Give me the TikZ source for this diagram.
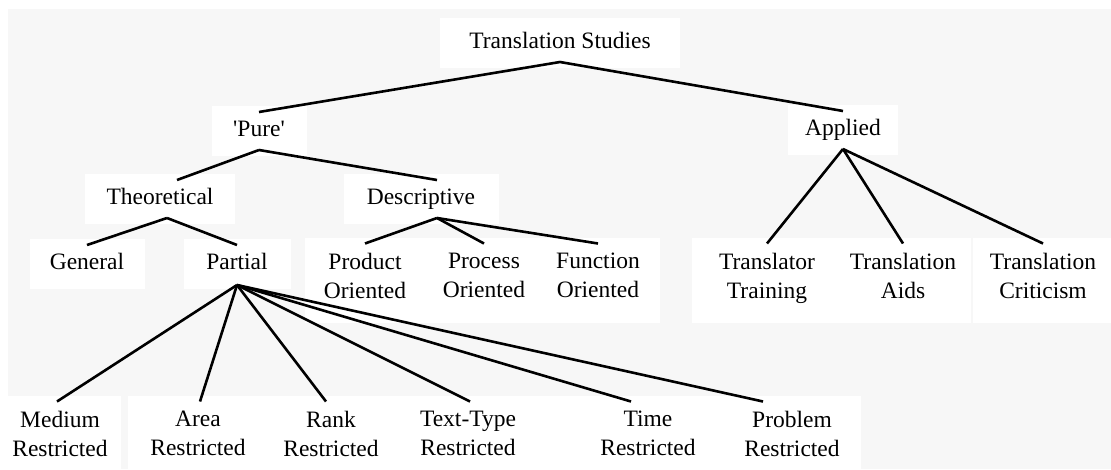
\documentclass[tikz,border=0pt]{standalone}
\usepackage{fontspec}
\setmainfont{Liberation Serif}[Ligatures=TeXOff]
\definecolor{bggray}{HTML}{F7F7F7}
\tikzset{
  lbl/.style={fill=white, align=center, font=\fontsize{23.5}{29}\selectfont,
    inner sep=2pt, outer ysep=-6pt, minimum height=50pt,
    execute at begin node=\strut, execute at end node=\strut},
  twoline/.style={lbl, minimum height=85pt}
}
\begin{document}
\begin{tikzpicture}[x=1pt, y=-1pt, line width=2.6pt]
  \useasboundingbox (0,0) rectangle (1111,469);
  \fill[bggray] (8,9) rectangle (1111,469);
  \node[lbl, minimum width=240pt] (ts) at (560,43) {Translation Studies};
  \node[lbl, minimum width=95pt] (pure) at (259,131) {'Pure'};
  \node[lbl, minimum width=110pt] (applied) at (843,130) {Applied};
  \node[lbl, minimum width=150pt] (theo) at (160,199) {Theoretical};
  \node[lbl, minimum width=155pt] (desc) at (421,199) {Descriptive};
  \node[lbl, minimum width=115pt] (general) at (87,264) {General};
  \node[lbl, minimum width=107pt] (partial) at (237,264) {Partial};
  \node[twoline, minimum width=120pt] (product) at (365,280) {Product\\Oriented};
  \node[twoline, minimum width=120pt] (process) at (484,280) {Process\\Oriented};
  \node[twoline, minimum width=124pt] (function) at (598,280) {Function\\Oriented};
  \node[twoline, minimum width=150pt] (training) at (767,280) {Translator\\Training};
  \node[twoline, minimum width=136pt] (aids) at (903,280) {Translation\\Aids};
  \node[twoline, minimum width=140pt] (criticism) at (1043,280) {Translation\\Criticism};
  \node[twoline, minimum width=121pt] (medium) at (60,438) {Medium\\Restricted};
  \node[twoline, minimum width=140pt] (area) at (198,438) {Area\\Restricted};
  \node[twoline, minimum width=130pt] (rank) at (331,438) {Rank\\Restricted};
  \node[twoline, minimum width=170pt] (texttype) at (468,438) {Text-Type\\Restricted};
  \node[twoline, minimum width=190pt] (time) at (648,438) {Time\\Restricted};
  \node[twoline, minimum width=137pt] (problem) at (792,438) {Problem\\Restricted};

  \draw (ts.south) -- (pure.north);
  \draw (ts.south) -- (applied.north);
  \draw (pure.south) -- ([xshift=17pt]theo.north);
  \draw (pure.south) -- ([xshift=16pt]desc.north);
  \draw ([xshift=7pt]theo.south) -- (general.north);
  \draw ([xshift=7pt]theo.south) -- (partial.north);
  \foreach \n in {product,process,function}
    \draw ([xshift=16pt]desc.south) -- (\n.north);
  \foreach \n/\dx in {medium/-3,area/2,rank/-5,texttype/2,time/-17,problem/-29}
    \draw ([yshift=-2pt]partial.south) -- ([xshift=\dx pt]\n.north);
  \foreach \n in {training,aids,criticism}
    \draw (applied.south) -- (\n.north);
\end{tikzpicture}
\end{document}
